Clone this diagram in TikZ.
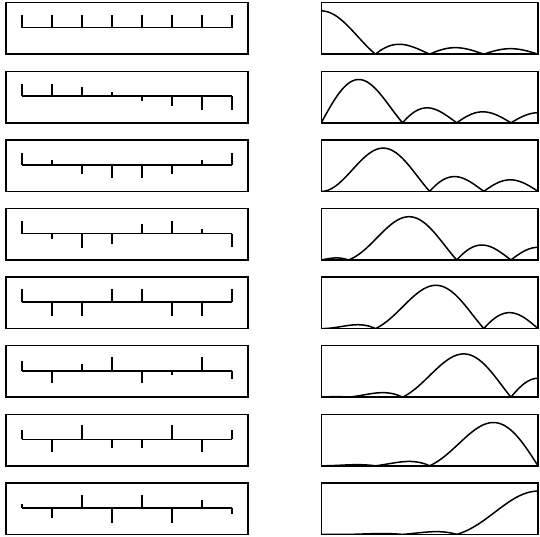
\documentclass[tikz,border=0pt]{standalone}
\usepackage{pgfplots}
\pgfplotsset{compat=1.18}
\usepackage{tikz}
\tikzset{panel/.style={line width=1.5pt},
  stemline/.style={line width=1.6pt}}
\pgfplotsset{
  respbox/.style={
    scale only axis, width=216.7pt, height=51.5pt,
    anchor=north west, xmin=0, xmax=180, ymin=0,
    enlarge y limits={upper,value=0.19},
    xtick=\empty, ytick=\empty,
    axis line style={line width=1.5pt},
    every axis plot/.style={no marks, black, line width=1.5pt},
  },
}

\begin{document}
\begin{tikzpicture}[x=1pt, y=-1pt,
    declare function={bc(\k,\n)=cos(11.25*\k*(2*\n+1));
      rsum(\w,\k)=bc(\k,0)+bc(\k,1)*cos(\w)+bc(\k,2)*cos(2*\w)+bc(\k,3)*cos(3*\w)
        +bc(\k,4)*cos(4*\w)+bc(\k,5)*cos(5*\w)+bc(\k,6)*cos(6*\w)+bc(\k,7)*cos(7*\w);
      isum(\w,\k)=bc(\k,1)*sin(\w)+bc(\k,2)*sin(2*\w)+bc(\k,3)*sin(3*\w)
        +bc(\k,4)*sin(4*\w)+bc(\k,5)*sin(5*\w)+bc(\k,6)*sin(6*\w)+bc(\k,7)*sin(7*\w);
      resp(\w,\k)=sqrt(rsum(\w,\k)^2+isum(\w,\k)^2);}]
  \useasboundingbox (0,0) rectangle (540,537);
  % basis vectors (left) and their magnitude responses (right)
  \foreach \row/\vals in {0/{38,38,38,38,38,38,38,38},
      1/{38,38,27,14,-15,-30,-42,-42},
      2/{37,15,-28,-40,-40,-28,15,37},
      3/{38,-15,-43,-30,27,38,13,-40},
      4/{40,-43,-43,40,40,-43,-43,40},
      5/{29,-38,19,42,-38,-13,42,-26},
      6/{29,-38,44,-26,-26,44,-38,29},
      7/{11,-30,38,-45,38,-45,25,-17}} {
    \pgfmathsetmacro\rtop{2.7+68.6*\row}
    \draw[panel] (6,\rtop) rectangle (248,\rtop+51.5);
    \draw[stemline] (21.7,\rtop+25) -- (231.7,\rtop+25);
    \foreach \h [count=\n from 0] in \vals
      \draw[stemline] (21.7+30*\n,\rtop+25) -- ++(0,{-(\h)/3});
    \begin{axis}[respbox, at={(321.3pt,-\rtop pt)}]
      \addplot[domain=0:180, samples=181] {resp(x,\row)};
    \end{axis}
  }
\end{tikzpicture}
\end{document}
